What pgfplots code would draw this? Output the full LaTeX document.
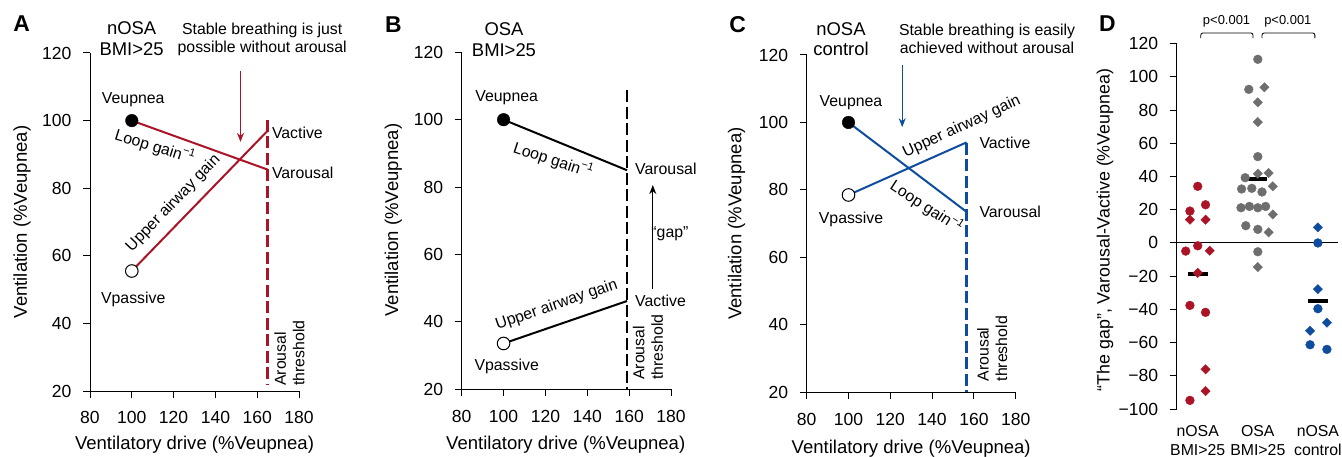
\documentclass[border=0pt]{standalone}
\usepackage{pgfplots}
\pgfplotsset{compat=1.18}
\usepackage{fontspec}
\setmainfont{Liberation Sans}
\usetikzlibrary{arrows.meta}
\definecolor{cred}{RGB}{170,20,38}
\definecolor{cgray}{RGB}{110,110,112}
\definecolor{cblue}{RGB}{14,76,158}
\newcommand\fT{\fontsize{17.6}{20}\selectfont}
\newcommand\fL{\fontsize{18.6}{21}\selectfont}
\newcommand\fLD{\fontsize{17.9}{21}\selectfont}
\newcommand\fA{\fontsize{15.9}{18.5}\selectfont}
\newcommand\fH{\fontsize{18.5}{21}\selectfont}
\newcommand\fP{\fontsize{23}{25}\selectfont\bfseries}
\newcommand\fS{\fontsize{13}{15}\selectfont}
\pgfplotsset{
 panel/.style={
  scale only axis, width=209bp, height=338bp,
  xmin=80, xmax=180, ymin=20, ymax=120,
  axis lines*=left, axis line style={line width=1bp,-},
  xtick={80,100,...,180}, ytick={20,40,...,120},
  tick align=outside, major tick length=7bp,
  every tick/.style={black, line width=1bp},
  tick label style={font=\fT},
  xticklabel style={yshift=-10bp},
  yticklabel style={xshift=-8bp},
  /pgf/number format/assume math mode=true,
  clip=false,
  xlabel={Ventilatory drive (\%Veupnea)},
  ylabel={Ventilation (\%Veupnea)},
  label style={font=\fL},
 },
 eup/.style={only marks, mark=*, mark size=6.3bp, black},
 pas/.style={only marks, mark=*, mark size=6.3bp, mark options={fill=white, draw=black, line width=1bp}},
}
\begin{document}
\begin{tikzpicture}
\path[use as bounding box] (0,0) rectangle (1342bp,457bp);
% panel letters
\node[font=\fP] at (21.7bp,433bp) {A};
\node[font=\fP] at (393.3bp,432bp) {B};
\node[font=\fP] at (737.7bp,432bp) {C};
\node[font=\fP] at (1107.3bp,433.7bp) {D};

% ---------------- Panel A
\begin{axis}[panel, at={(90bp,66bp)}, anchor=south west,
  ylabel style={at={(axis description cs:-0.325,0.5)}, anchor=center},
  xlabel style={at={(axis description cs:0.5,-0.16)}, anchor=center}]
\addplot[cred, line width=2bp] coordinates {(100,100) (165,85.5)};
\addplot[cred, line width=2bp] coordinates {(100,55.5) (165,97)};
\addplot[cred, line width=2.5bp, dash pattern=on 12bp off 4.5bp] coordinates {(165,100.2) (165,22)};
\addplot[cred, line width=1.3bp, -{Stealth[length=9bp,width=7bp]}] coordinates {(152,114.7) (152,93.7)};
\addplot[eup] coordinates {(100,100)};
\addplot[pas] coordinates {(100,55.5)};
\node[font=\fA] at (axis cs:100.7,106.1) {Veupnea};
\node[font=\fA] at (axis cs:100.7,47.1) {Vpassive};
\node[font=\fA, anchor=west, inner sep=0pt] at (axis cs:167,96.4) {Vactive};
\node[font=\fA, anchor=west, inner sep=0pt] at (axis cs:167,84.4) {Varousal};
\node[font=\fA, rotate=-17] at (axis cs:111.1,92.3) {Loop gain\textsuperscript{−1}};
\node[font=\fA, rotate=46] at (axis cs:119.9,75.5) {Upper airway gain};
\node[font=\fA, rotate=90, align=left, anchor=west, inner sep=0pt] at (axis cs:175.4,21.5) {Arousal\\threshold};
\node[font=\fH, align=center] at (axis cs:99.9,124.2) {nOSA\\BMI>25};
\node[font=\fA, align=center] at (axis cs:162.4,124.1) {Stable breathing is just\\possible without arousal};
\end{axis}

% ---------------- Panel B
\begin{axis}[panel, at={(461.7bp,67.7bp)}, anchor=south west, width=209.3bp, height=337bp,
  ylabel style={at={(axis description cs:-0.327,0.502)}, anchor=center},
  xlabel style={at={(axis description cs:0.497,-0.165)}, anchor=center}]
\addplot[black, line width=2bp] coordinates {(100,100) (159,85)};
\addplot[black, line width=2bp] coordinates {(100,33.6) (159,46.2)};
\addplot[black, line width=2.5bp, dash pattern=on 12bp off 4.5bp] coordinates {(159,108.8) (159,20)};
\addplot[black, line width=1.2bp, -{Stealth[length=9bp,width=7bp]}] coordinates {(171.3,49.7) (171.3,80.6)};
\addplot[eup] coordinates {(100,100)};
\addplot[pas] coordinates {(100,33.6)};
\node[font=\fA] at (axis cs:101.5,106.5) {Veupnea};
\node[font=\fA] at (axis cs:101.5,26.7) {Vpassive};
\node[font=\fA, anchor=west, inner sep=0pt] at (axis cs:162.8,85.4) {Varousal};
\node[font=\fA, anchor=west, inner sep=0pt] at (axis cs:162.8,46.3) {Vactive};
\node[font=\fA] at (axis cs:179.5,66.3) {“gap”};
\node[font=\fA, rotate=-18] at (axis cs:123.8,88.0) {Loop gain\textsuperscript{−1}};
\node[font=\fA, rotate=19] at (axis cs:125.4,45.0) {Upper airway gain};
\node[font=\fA, rotate=90, align=left, anchor=west, inner sep=0pt] at (axis cs:169,22.8) {Arousal\\threshold};
\node[font=\fH, align=center] at (axis cs:100.2,123.7) {OSA\\BMI>25};
\end{axis}

% ---------------- Panel C
\begin{axis}[panel, at={(806.7bp,64.7bp)}, anchor=south west, height=337.3bp,
  ylabel style={at={(axis description cs:-0.335,0.5)}, anchor=center},
  xlabel style={at={(axis description cs:0.5,-0.166)}, anchor=center}]
\addplot[cblue, line width=2bp] coordinates {(100,100) (156.5,73.5)};
\addplot[cblue, line width=2bp] coordinates {(100,78.5) (156.5,94.1)};
\addplot[cblue, line width=2.5bp, dash pattern=on 12bp off 4.5bp] coordinates {(156.5,94) (156.5,20)};
\addplot[cblue, line width=1.3bp, -{Stealth[length=9bp,width=7bp]}] coordinates {(125.7,117) (125.7,98.6)};
\addplot[eup] coordinates {(100,100)};
\addplot[pas] coordinates {(100,78.5)};
\node[font=\fA] at (axis cs:101.2,105.9) {Veupnea};
\node[font=\fA] at (axis cs:101.2,71.4) {Vpassive};
\node[font=\fA, anchor=west, inner sep=0pt] at (axis cs:162.6,94) {Vactive};
\node[font=\fA, anchor=west, inner sep=0pt] at (axis cs:162.6,73.4) {Varousal};
\node[font=\fA, rotate=25] at (axis cs:154.2,98.7) {Upper airway gain};
\node[font=\fA, rotate=-33] at (axis cs:137.4,75.0) {Loop gain\textsuperscript{−1}};
\node[font=\fA, rotate=90, align=left, anchor=west, inner sep=0pt] at (axis cs:168.8,23.2) {Arousal\\threshold};
\node[font=\fH, align=center] at (axis cs:96.4,124.7) {nOSA\\control};
\node[font=\fA, align=center] at (axis cs:166.3,124.8) {Stable breathing is easily\\achieved without arousal};
\end{axis}

% ---------------- Panel D
\begin{axis}[scale only axis, at={(1176.7bp,48bp)}, anchor=south west,
  width=161bp, height=365.3bp, xmin=0.65, xmax=3.33, ymin=-100, ymax=120,
  axis y line*=left, axis x line=none, axis line style={line width=1bp,-},
  ytick={-100,-80,...,120},
  yticklabels={−100,−80,−60,−40,−20,0,20,40,60,80,100,120},
  tick align=outside, major tick length=7bp,
  every tick/.style={black, line width=1bp},
  tick label style={font=\fT},
  yticklabel style={xshift=-8bp},
  clip=false,
  ylabel={“The gap”, Varousal-Vactive (\%Veupnea)},
  ylabel style={font=\fLD, at={(axis description cs:-0.445,0.49)}, anchor=center}]
\addplot[black, line width=1bp] coordinates {(0.65,0) (3.33,0)};
% red
\addplot[only marks, mark=*, mark size=4.4bp, cred] coordinates {
 (1,34.1) (1.13,23) (0.87,19.2) (1,-1.7) (0.8,-4.9) (0.87,-37.6) (1.13,-41.8) (0.87,-94.8)};
\addplot[only marks, mark=square*, mark size=3.3bp, mark options={rotate=45}, cred] coordinates {
 (0.87,14) (1.13,14) (1.2,-4.7) (1,-18) (1.13,-76.1) (1.13,-89.2)};
% gray
\addplot[only marks, mark=*, mark size=4.4bp, cgray] coordinates {
 (2,110.6) (1.85,92.5) (2,52) (1.79,39.3) (1.73,32.5) (1.9,32.9) (2.07,30.7)
 (1.72,21.2) (1.86,22) (2,21.2) (2.13,22) (1.8,10.4) (2,8.2) (2,-5.3)};
\addplot[only marks, mark=square*, mark size=3.3bp, mark options={rotate=45}, cgray] coordinates {
 (2.11,93.7) (2,84.7) (2,72.8) (2,41.7) (2.18,42.1) (2.25,34.1) (2.25,17.2) (2.18,6.4) (2,-14.5)};
% blue
\addplot[only marks, mark=*, mark size=4.4bp, cblue] coordinates {
 (3,0) (3,-39.6) (2.87,-61.3) (3.15,-64.1)};
\addplot[only marks, mark=square*, mark size=3.3bp, mark options={rotate=45}, cblue] coordinates {
 (3,9.4) (3,-27.8) (3.15,-48) (2.87,-52.9)};
% means
\addplot[black, line width=4bp] coordinates {(0.83,-18.7) (1.17,-18.7)};
\addplot[black, line width=4bp] coordinates {(1.81,38.5) (2.16,38.5)};
\addplot[black, line width=4bp] coordinates {(2.83,-35) (3.17,-35)};
% brackets
\draw[line width=0.8bp, rounded corners=2bp] (axis cs:1.05,123.4) -- (axis cs:1.05,126.4) -- (axis cs:1.92,126.4) -- (axis cs:1.92,123.4);
\draw[line width=0.8bp, rounded corners=2bp] (axis cs:2.07,123.4) -- (axis cs:2.07,126.4) -- (axis cs:2.95,126.4) -- (axis cs:2.95,123.4);
\node[font=\fS] at (axis cs:1.48,133.7) {p<0.001};
\node[font=\fS] at (axis cs:2.5,133.7) {p<0.001};
% category labels
\node[font=\fA, align=center, anchor=north, inner sep=0pt, yshift=-16.7bp] at (axis cs:1,-100) {nOSA\\BMI>25};
\node[font=\fA, align=center, anchor=north, inner sep=0pt, yshift=-16.7bp] at (axis cs:2,-100) {OSA\\BMI>25};
\node[font=\fA, align=center, anchor=north, inner sep=0pt, yshift=-16.7bp] at (axis cs:3,-100) {nOSA\\control};
\end{axis}
\end{tikzpicture}
\end{document}
